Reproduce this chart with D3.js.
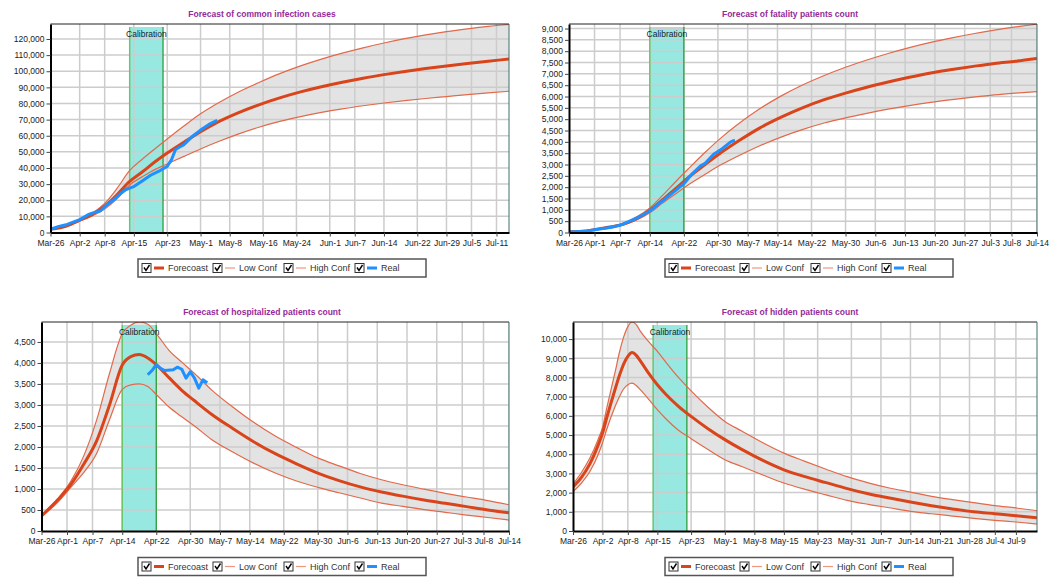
<!DOCTYPE html>
<meta charset="utf-8">
<script src="https://d3js.org/d3.v7.min.js"></script>
<style>
  body { margin: 0; background: #fff; }
  svg text { font-family: "Liberation Sans", Arial, sans-serif; }
</style>
<div id="chart"></div>
<script>
// ---- data ----
var xRange = ["Mar-26", "Jul-14"];
var calibration = ["Apr-14", "Apr-22"];
var legendNames = ["Forecoast", "Low Conf", "High Conf", "Real"];

// sample dates used by the first two charts
var sampleDates = ["Mar-26","Mar-30","Apr-2","Apr-5","Apr-8","Apr-11","Apr-14","Apr-17","Apr-20","Apr-23","Apr-27",
  "May-1","May-5","May-10","May-15","May-20","May-25","May-30","Jun-4","Jun-9","Jun-14","Jun-19","Jun-24","Jun-29",
  "Jul-4","Jul-9","Jul-14"];

// common infection cases
var infForecast = [2000, 4200, 7600, 11200, 16300, 23500, 31700, 37500, 43700, 49300, 56000, 62500, 68300, 74200,
  79200, 83500, 87200, 90400, 93200, 95700, 97900, 99900, 101700, 103300, 104800, 106200, 107600];
var infLow = [1800, 3900, 7000, 10200, 14500, 21000, 29500, 34500, 39000, 42500, 47200, 51800, 56100, 61000,
  65300, 68900, 71900, 74500, 76700, 78600, 80300, 81800, 83100, 84300, 85500, 86600, 87600];
var infHigh = [2200, 4500, 8000, 12000, 18000, 27500, 38500, 45400, 51800, 58000, 66000, 73600, 80000, 87000,
  93000, 98500, 103300, 107500, 111200, 114500, 117500, 120200, 122600, 124600, 126300, 127800, 129000];
var infRealDates = ["Mar-26","Mar-28","Mar-30","Apr-2","Apr-4","Apr-5","Apr-7","Apr-8","Apr-10","Apr-12","Apr-13",
  "Apr-14","Apr-15","Apr-17","Apr-19","Apr-21","Apr-23","Apr-24","Apr-25","Apr-26","Apr-27","Apr-29","May-1","May-3","May-5"];
var infReal = [2000, 3800, 5000, 8000, 11000, 12000, 13500, 16000, 20000, 24500, 26500, 27500, 28500, 32000,
  35500, 38000, 41000, 45000, 51500, 53000, 54500, 59500, 63500, 67000, 69500];

// fatality patients
var fatForecast = [30, 70, 160, 250, 380, 620, 985, 1450, 1920, 2420, 3000, 3560, 4060, 4630, 5100, 5510, 5860,
  6150, 6410, 6640, 6850, 7040, 7190, 7330, 7460, 7560, 7680];
var fatLow = [25, 60, 140, 230, 350, 560, 870, 1300, 1700, 2100, 2570, 3020, 3400, 3840, 4220, 4550, 4830, 5060,
  5260, 5440, 5600, 5740, 5860, 5970, 6070, 6150, 6220];
var fatHigh = [35, 80, 170, 270, 420, 700, 1085, 1640, 2230, 2800, 3540, 4220, 4820, 5480, 6040, 6520, 6930, 7290,
  7610, 7900, 8160, 8390, 8590, 8770, 8930, 9070, 9190];
var fatRealDates = ["Mar-26","Mar-30","Apr-1","Apr-3","Apr-5","Apr-7","Apr-9","Apr-11","Apr-14","Apr-17","Apr-20",
  "Apr-21","Apr-22","Apr-24","Apr-26","Apr-27","Apr-28","Apr-29","May-1","May-3","May-4"];
var fatReal = [20, 50, 120, 180, 230, 320, 480, 640, 950, 1400, 1850, 2000, 2150, 2600, 2950, 3050, 3250, 3450,
  3700, 4000, 4080];

// hospitalized patients
var hospDates = ["Mar-26","Mar-30","Apr-2","Apr-5","Apr-8","Apr-11","Apr-14","Apr-16","Apr-18","Apr-20","Apr-22",
  "Apr-25","Apr-28","May-1","May-5","May-10","May-15","May-20","May-25","May-30","Jun-4","Jun-9","Jun-14","Jun-19",
  "Jun-24","Jun-29","Jul-4","Jul-9","Jul-14"];
var hospForecast = [360, 760, 1120, 1600, 2150, 3000, 3950, 4150, 4200, 4120, 3960, 3650, 3350, 3100, 2780, 2440,
  2120, 1840, 1600, 1380, 1200, 1050, 930, 830, 740, 660, 580, 500, 435];
var hospLow = [340, 700, 1050, 1400, 1850, 2650, 3370, 3480, 3500, 3440, 3250, 2950, 2720, 2500, 2180, 1880, 1610,
  1380, 1190, 1040, 910, 785, 665, 585, 510, 445, 380, 322, 260];
var hospHigh = [380, 790, 1200, 1800, 2650, 3750, 4700, 4900, 4975, 4920, 4700, 4300, 4020, 3750, 3360, 2950,
  2580, 2260, 1990, 1740, 1550, 1370, 1220, 1100, 995, 895, 810, 725, 625];
var hospRealDates = ["Apr-20","Apr-21","Apr-22","Apr-23","Apr-24","Apr-26","Apr-27","Apr-28","Apr-29","Apr-30",
  "May-1","May-2","May-3","May-4"];
var hospReal = [3720, 3820, 3960, 3870, 3820, 3840, 3900, 3850, 3640, 3790, 3640, 3400, 3600, 3530];

// hidden patients
var hidDates = ["Mar-26","Mar-28","Mar-30","Apr-1","Apr-2","Apr-3","Apr-5","Apr-6","Apr-7","Apr-8","Apr-9","Apr-10",
  "Apr-11","Apr-13","Apr-15","Apr-17","Apr-20","Apr-23","Apr-27","May-1","May-5","May-10","May-15","May-20","May-25",
  "May-30","Jun-4","Jun-9","Jun-14","Jun-19","Jun-24","Jun-29","Jul-4","Jul-9","Jul-14"];
var hidForecast = [2300, 2800, 3500, 4500, 5100, 5900, 7400, 8100, 8700, 9100, 9300, 9150, 8850, 8200, 7620, 7130,
  6500, 5970, 5330, 4760, 4250, 3680, 3190, 2830, 2520, 2210, 1940, 1720, 1510, 1320, 1150, 1000, 900, 800, 690];
var hidLow = [2050, 2500, 3100, 4000, 4600, 5300, 6500, 7000, 7400, 7620, 7700, 7580, 7350, 6850, 6320, 5850, 5250,
  4810, 4250, 3715, 3360, 2920, 2500, 2170, 1880, 1600, 1390, 1210, 1025, 900, 780, 660, 555, 470, 365];
var hidHigh = [2450, 3050, 3800, 4800, 5400, 6400, 8300, 9300, 10100, 10650, 10890, 10750, 10400, 9850, 9360, 8800,
  8000, 7300, 6450, 5710, 5210, 4600, 4060, 3630, 3220, 2830, 2510, 2240, 2030, 1800, 1630, 1480, 1320, 1200, 1060];

// axis ticks
var xTicksA = ["Mar-26","Apr-2","Apr-8","Apr-15","Apr-23","May-1","May-8","May-16","May-24","Jun-1","Jun-7","Jun-14",
  "Jun-22","Jun-29","Jul-5","Jul-11"];
var xTicksB = ["Mar-26","Apr-1","Apr-7","Apr-14","Apr-22","Apr-30","May-7","May-14","May-22","May-30","Jun-6",
  "Jun-13","Jun-20","Jun-27","Jul-3","Jul-8","Jul-14"];
var xTicksC = ["Mar-26","Apr-2","Apr-8","Apr-15","Apr-23","May-1","May-8","May-15","May-23","May-31","Jun-7",
  "Jun-14","Jun-21","Jun-28","Jul-4","Jul-9"];
var infYTicks = [0, 10000, 20000, 30000, 40000, 50000, 60000, 70000, 80000, 90000, 100000, 110000, 120000];
var fatYTicks = [0, 500, 1000, 1500, 2000, 2500, 3000, 3500, 4000, 4500, 5000, 5500, 6000, 6500, 7000, 7500,
  8000, 8500, 9000];
var hospYTicks = [0, 500, 1000, 1500, 2000, 2500, 3000, 3500, 4000, 4500];
var hidYTicks = [0, 1000, 2000, 3000, 4000, 5000, 6000, 7000, 8000, 9000, 10000];
var yMax = [129300, 9200, 4975, 10890];

// ---- drawing ----
var parse = d3.timeParse("%b-%d");
var W = 1058, H = 578;

var svg = d3.select("#chart").append("svg")
  .attr("width", W).attr("height", H);

var panels = [
  { id: 0, title: "Forecast of common infection cases", x0: 50.5, x1: 509, y0: 24, y1: 232.5, titleX: 262,
    legendX: 138, dates: sampleDates, forecast: infForecast, low: infLow, high: infHigh,
    realDates: infRealDates, real: infReal, xTicks: xTicksA, yTicks: infYTicks },
  { id: 1, title: "Forecast of fatality patients count", x0: 569, x1: 1037, y0: 24, y1: 232.5, titleX: 790,
    legendX: 665, dates: sampleDates, forecast: fatForecast, low: fatLow, high: fatHigh,
    realDates: fatRealDates, real: fatReal, xTicks: xTicksB, yTicks: fatYTicks },
  { id: 2, title: "Forecast of hospitalized patients count", x0: 41.5, x1: 509, y0: 322, y1: 531, titleX: 262,
    legendX: 138, dates: hospDates, forecast: hospForecast, low: hospLow, high: hospHigh,
    realDates: hospRealDates, real: hospReal, xTicks: xTicksB, yTicks: hospYTicks },
  { id: 3, title: "Forecast of hidden patients count", x0: 573, x1: 1037, y0: 322, y1: 531, titleX: 790,
    legendX: 665, dates: hidDates, forecast: hidForecast, low: hidLow, high: hidHigh,
    realDates: [], real: [], xTicks: xTicksC, yTicks: hidYTicks }
];

var cForecast = "#d9441a", cConf = "#e2694a", cConfLegend = "#f0977f", cReal = "#1e90ff";

panels.forEach(drawPanel);

function drawPanel(p) {
  var g = svg.append("g");
  var x = d3.scaleTime().domain(xRange.map(parse)).range([p.x0, p.x1]);
  var y = d3.scaleLinear().domain([0, yMax[p.id]]).range([p.y1, p.y0]);

  var clipId = "clip" + p.id;
  g.append("clipPath").attr("id", clipId).append("rect")
    .attr("x", p.x0).attr("y", p.y0).attr("width", p.x1 - p.x0).attr("height", p.y1 - p.y0);

  var rows = p.dates.map(function(d, i) {
    return { date: parse(d), f: p.forecast[i], lo: p.low[i], hi: p.high[i] };
  });
  var realRows = p.realDates.map(function(d, i) { return { date: parse(d), v: p.real[i] }; });

  // title
  g.append("text")
    .attr("x", p.titleX).attr("y", p.y0 - 7)
    .attr("text-anchor", "middle")
    .style("font-size", "8.5px").style("font-weight", "bold")
    .style("fill", "#952a9a")
    .text(p.title);

  g.append("rect")
    .attr("x", p.x0).attr("y", p.y0).attr("width", p.x1 - p.x0).attr("height", p.y1 - p.y0)
    .attr("fill", "#fff");

  var plot = g.append("g").attr("clip-path", "url(#" + clipId + ")");

  // confidence band
  plot.append("path").datum(rows)
    .attr("fill", "#e3e3e3")
    .attr("d", d3.area().curve(d3.curveMonotoneX)
      .x(function(d) { return x(d.date); })
      .y0(function(d) { return y(d.lo); })
      .y1(function(d) { return y(d.hi); }));

  // calibration zone
  var cx0 = x(parse(calibration[0])), cx1 = x(parse(calibration[1]));
  plot.append("rect")
    .attr("x", cx0).attr("y", p.y0 + 3).attr("width", cx1 - cx0).attr("height", p.y1 - p.y0 - 3)
    .attr("fill", "#98e8e2");

  // grid
  plot.selectAll(".vg").data(p.xTicks.slice(1)).enter().append("line")
    .attr("x1", function(d) { return x(parse(d)); }).attr("x2", function(d) { return x(parse(d)); })
    .attr("y1", p.y0).attr("y2", p.y1)
    .attr("stroke", "#cccccc").attr("stroke-width", 1.5);
  plot.selectAll(".hg").data(p.yTicks.slice(1)).enter().append("line")
    .attr("x1", p.x0).attr("x2", p.x1)
    .attr("y1", function(d) { return y(d); }).attr("y2", function(d) { return y(d); })
    .attr("stroke", "#cccccc").attr("stroke-width", 1.5);

  plot.append("line").attr("x1", cx0).attr("x2", cx0).attr("y1", p.y0 + 3).attr("y2", p.y1)
    .attr("stroke", "#6cc46c").attr("stroke-width", 1.5);
  plot.append("line").attr("x1", cx1).attr("x2", cx1).attr("y1", p.y0 + 3).attr("y2", p.y1)
    .attr("stroke", "#1f9a2a").attr("stroke-width", 1.2);

  // series
  function lineOf(key) {
    return d3.line().curve(d3.curveMonotoneX)
      .x(function(d) { return x(d.date); })
      .y(function(d) { return y(d[key]); });
  }
  plot.append("path").datum(rows).attr("fill", "none")
    .attr("stroke", cConf).attr("stroke-width", 1.2).attr("d", lineOf("lo"));
  plot.append("path").datum(rows).attr("fill", "none")
    .attr("stroke", cConf).attr("stroke-width", 1.2).attr("d", lineOf("hi"));
  plot.append("path").datum(rows).attr("fill", "none")
    .attr("stroke", cForecast).attr("stroke-width", 3).attr("d", lineOf("f"));
  if (realRows.length) {
    plot.append("path").datum(realRows).attr("fill", "none")
      .attr("stroke", cReal).attr("stroke-width", 3).attr("stroke-linejoin", "round")
      .attr("d", d3.line()
        .x(function(d) { return x(d.date); })
        .y(function(d) { return y(d.v); }));
  }

  g.append("text")
    .attr("x", (cx0 + cx1) / 2).attr("y", p.y0 + 13)
    .attr("text-anchor", "middle")
    .style("font-size", "8.5px").style("fill", "#1a1a2a")
    .text("Calibration");

  // frame top/right
  g.append("line").attr("x1", p.x0).attr("x2", p.x1).attr("y1", p.y0).attr("y2", p.y0)
    .attr("stroke", "#222").attr("stroke-width", 1);
  g.append("line").attr("x1", p.x1).attr("x2", p.x1).attr("y1", p.y0).attr("y2", p.y1)
    .attr("stroke", "#3d7070").attr("stroke-width", 1);

  // axes
  var yAxis = g.append("g").attr("transform", "translate(" + p.x0 + ",0)")
    .call(d3.axisLeft(y).tickValues(p.yTicks).tickFormat(d3.format(",")).tickSize(4).tickSizeOuter(0).tickPadding(2));
  var xAxis = g.append("g").attr("transform", "translate(0," + p.y1 + ")")
    .call(d3.axisBottom(x).tickValues(p.xTicks.map(parse))
      .tickFormat(function(d, i) { return p.xTicks[i]; })
      .tickSize(4).tickSizeOuter(0).tickPadding(3));
  [yAxis, xAxis].forEach(function(a) {
    a.select(".domain").attr("stroke", "#000").attr("stroke-width", 2);
    a.selectAll(".tick line").attr("stroke", "#444");
    a.selectAll(".tick text").style("font-size", "8.5px").style("fill", "#222")
      .style("font-family", "'Liberation Sans', Arial, sans-serif");
  });

  // legend
  var ly = p.y1 + 26.5;
  var leg = g.append("g").attr("transform", "translate(" + p.legendX + "," + ly + ")");
  leg.append("rect").attr("width", 288).attr("height", 18)
    .attr("fill", "#fff").attr("stroke", "#555").attr("stroke-width", 1.5);
  var offsets = [4, 75, 146, 217];
  var lcolors = [cForecast, cConfLegend, cConfLegend, cReal];
  var lwidths = [3, 1.2, 1.2, 3];
  legendNames.forEach(function(name, i) {
    var it = leg.append("g").attr("transform", "translate(" + offsets[i] + ",9)");
    it.append("rect").attr("x", 0).attr("y", -4.5).attr("width", 9).attr("height", 9)
      .attr("fill", "#fff").attr("stroke", "#333").attr("stroke-width", 1);
    it.append("path").attr("d", "M2,-0.5 L4,2.5 L7.5,-3")
      .attr("fill", "none").attr("stroke", "#000").attr("stroke-width", 1.4);
    it.append("line").attr("x1", 12).attr("x2", 22).attr("y1", 0).attr("y2", 0)
      .attr("stroke", lcolors[i]).attr("stroke-width", lwidths[i]);
    it.append("text").attr("x", 26).attr("y", 3.3)
      .style("font-size", "9px").style("fill", "#333").text(name);
  });
}
</script>
